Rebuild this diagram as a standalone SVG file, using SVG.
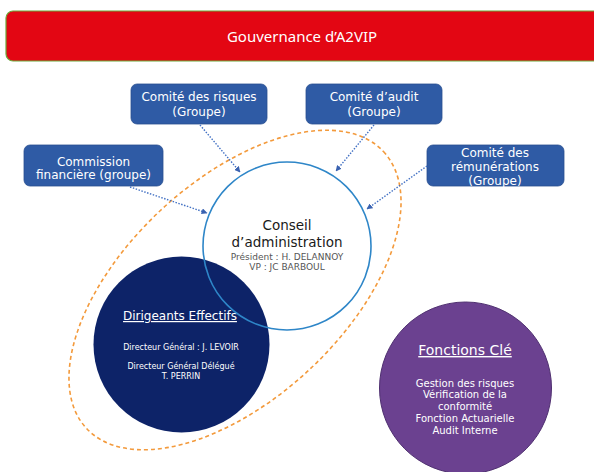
<svg xmlns="http://www.w3.org/2000/svg" width="594" height="472" viewBox="0 0 594 472">
<defs>
<style>
.box{fill:#2F5BA5;stroke:#2A4F8F;stroke-width:0.8}
.bt{font-family:"DejaVu Sans",Verdana,sans-serif;font-size:12px;fill:#FFFFFF;text-anchor:middle}
.conn{stroke:#4472C4;stroke-width:1.4;stroke-dasharray:1.5 1.5;fill:none;marker-end:url(#arr)}
.ct{font-family:"DejaVu Sans",Verdana,sans-serif;text-anchor:middle}
</style>
<marker id="arr" viewBox="0 0 10 10" refX="9" refY="5" markerWidth="6" markerHeight="6" markerUnits="userSpaceOnUse" orient="auto">
<path d="M0,0 L10,5 L0,10 z" fill="#3A62B0"/>
</marker>
</defs>
<rect width="594" height="472" fill="#FFFFFF"/>
<g id="title">
<rect x="6" y="11" width="600" height="50" rx="7" fill="#E30613" stroke="#6AAA3A" stroke-width="1.2"/>
<text x="302" y="42" font-family="'Noto Sans',sans-serif" font-size="15" fill="#FFFFFF" text-anchor="middle">Gouvernance d’A2VIP</text>
</g>
<g id="perimetre">
<ellipse cx="235" cy="290" rx="203" ry="109" transform="rotate(-43 235 290)" fill="none" stroke="#F39A3C" stroke-width="1.6" stroke-dasharray="4 3"/>
</g>
<g id="dirigeants">
<circle cx="181.5" cy="344.5" r="88" fill="#0D2368"/>
<text class="ct" x="180" y="320" font-size="12" fill="#FFFFFF" text-decoration="underline">Dirigeants Effectifs</text>
<text class="ct" x="181" y="350" font-size="8" fill="#FFFFFF">Directeur Général : J. LEVOIR</text>
<text class="ct" x="181" y="369" font-size="8" fill="#FFFFFF">Directeur Général Délégué</text>
<text class="ct" x="181" y="379" font-size="8" fill="#FFFFFF">T. PERRIN</text>
</g>
<g id="conseil">
<circle cx="287" cy="246" r="84" fill="none" stroke="#2E86C8" stroke-width="1.6"/>
<text class="ct" x="287" y="230" font-size="13.5" fill="#1A1A1A">Conseil</text>
<text class="ct" x="287" y="247" font-size="13.5" fill="#1A1A1A">d’administration</text>
<text class="ct" x="287" y="260" font-size="9" fill="#555555">Président : H. DELANNOY</text>
<text class="ct" x="287" y="270" font-size="9" fill="#555555">VP : JC BARBOUL</text>
</g>
<g id="fonctions">
<circle cx="465.5" cy="388" r="86" fill="#6B4190" stroke="#4F3070" stroke-width="1"/>
<text class="ct" x="465" y="355" font-size="14" fill="#FFFFFF" text-decoration="underline">Fonctions Clé</text>
<text class="ct" x="465" y="387" font-size="10" fill="#FFFFFF">Gestion des risques</text>
<text class="ct" x="465" y="398" font-size="10" fill="#FFFFFF">Vérification de la</text>
<text class="ct" x="465" y="410" font-size="10" fill="#FFFFFF">conformité</text>
<text class="ct" x="465" y="422" font-size="10" fill="#FFFFFF">Fonction Actuarielle</text>
<text class="ct" x="465" y="434" font-size="10" fill="#FFFFFF">Audit Interne</text>
</g>
<g id="commission">
<rect class="box" x="24" y="145" width="139" height="41" rx="6"/>
<text class="bt" x="93.5" y="166">Commission</text>
<text class="bt" x="93.5" y="179">financière (groupe)</text>
</g>
<g id="risques">
<rect class="box" x="131" y="84" width="136" height="40" rx="6"/>
<text class="bt" x="199" y="101">Comité des risques</text>
<text class="bt" x="199" y="116">(Groupe)</text>
</g>
<g id="audit">
<rect class="box" x="306" y="84" width="136" height="40" rx="6"/>
<text class="bt" x="374" y="101">Comité d’audit</text>
<text class="bt" x="374" y="116">(Groupe)</text>
</g>
<g id="remunerations">
<rect class="box" x="427" y="145" width="137" height="41" rx="6"/>
<text class="bt" x="495" y="157">Comité des</text>
<text class="bt" x="495" y="171">rémunérations</text>
<text class="bt" x="495" y="185">(Groupe)</text>
</g>
<g id="connectors">
<line class="conn" x1="200" y1="125" x2="240" y2="172"/>
<line class="conn" x1="374" y1="125" x2="336" y2="171"/>
<line class="conn" x1="130" y1="187" x2="207" y2="213"/>
<line class="conn" x1="427" y1="166" x2="367" y2="209"/>
</g>
</svg>
